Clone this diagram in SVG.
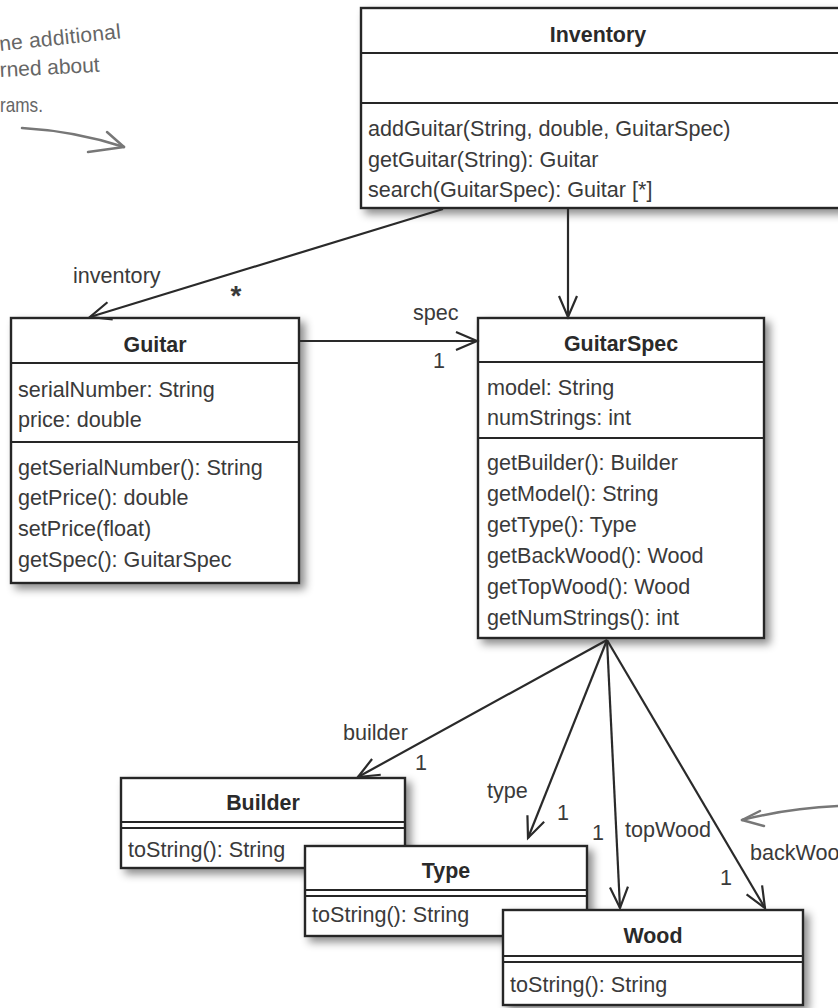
<svg xmlns="http://www.w3.org/2000/svg" width="838" height="1008" viewBox="0 0 838 1008">
<defs>
<style>
.box{fill:#fff;stroke:#262626;stroke-width:2.4}
.dv{stroke:#262626;stroke-width:2.2;fill:none}
.t{font-family:"Liberation Sans",Arial,sans-serif;font-size:21.6px;fill:#3a3a3a}
.ttl{font-family:"Liberation Sans",Arial,sans-serif;font-size:21.4px;font-weight:bold;fill:#2a2a2a;text-anchor:middle}
.c{stroke:#2a2a2a;stroke-width:2.2;fill:none;marker-end:url(#arr)}
.hw{font-family:"Liberation Sans",Arial,sans-serif;font-size:21px;fill:#666}
.hwl{stroke:#777;stroke-width:2.5;fill:none;stroke-linecap:round;stroke-linejoin:round}
</style>
<marker id="arr" markerUnits="userSpaceOnUse" markerWidth="26" markerHeight="22" refX="23" refY="11" orient="auto">
<path d="M2,2 L23,11 L2,20" fill="none" stroke="#2a2a2a" stroke-width="2.2"/>
</marker>
<filter id="sh" x="-10%" y="-10%" width="130%" height="130%">
<feDropShadow dx="5" dy="5" stdDeviation="4" flood-color="#000" flood-opacity="0.45"/>
</filter>
</defs>
<rect width="838" height="1008" fill="#fff"/>

<g id="annotation-top">
<text class="hw" x="0" y="51" transform="rotate(-6 0 51)" textLength="122" lengthAdjust="spacing">ne additional</text>
<text class="hw" x="0" y="77" transform="rotate(-3 0 77)" textLength="100" lengthAdjust="spacing">rned about</text>
<text class="hw" x="0" y="112" textLength="43" lengthAdjust="spacingAndGlyphs">rams.</text>
<path class="hwl" d="M22,128 Q75,131 124,147"/>
<path class="hwl" d="M107,132 L124,147 L88,152"/>
</g>

<g id="annotation-right">
<path class="hwl" d="M840,806 Q790,808 742,820"/>
<path class="hwl" d="M760,811 L742,820 L764,826"/>
</g>

<g id="Inventory">
<rect class="box" x="361" y="8" width="490" height="200" filter="url(#sh)"/>
<line class="dv" x1="361" y1="53" x2="851" y2="53"/>
<line class="dv" x1="361" y1="103" x2="851" y2="103"/>
<text class="ttl" x="598" y="42">Inventory</text>
<text class="t" x="368" y="136">addGuitar(String, double, GuitarSpec)</text>
<text class="t" x="368" y="167">getGuitar(String): Guitar</text>
<text class="t" x="368" y="197">search(GuitarSpec): Guitar [*]</text>
</g>

<g id="Guitar">
<rect class="box" x="11" y="318" width="288" height="265" filter="url(#sh)"/>
<line class="dv" x1="11" y1="363" x2="299" y2="363"/>
<line class="dv" x1="11" y1="442" x2="299" y2="442"/>
<text class="ttl" x="155" y="352">Guitar</text>
<text class="t" x="18" y="397">serialNumber: String</text>
<text class="t" x="18" y="427">price: double</text>
<text class="t" x="18" y="475">getSerialNumber(): String</text>
<text class="t" x="18" y="505">getPrice(): double</text>
<text class="t" x="18" y="536">setPrice(float)</text>
<text class="t" x="18" y="567">getSpec(): GuitarSpec</text>
</g>

<g id="GuitarSpec">
<rect class="box" x="478" y="318" width="286" height="320" filter="url(#sh)"/>
<line class="dv" x1="478" y1="362" x2="764" y2="362"/>
<line class="dv" x1="478" y1="438" x2="764" y2="438"/>
<text class="ttl" x="621" y="351">GuitarSpec</text>
<text class="t" x="487" y="395">model: String</text>
<text class="t" x="487" y="425">numStrings: int</text>
<text class="t" x="487" y="470">getBuilder(): Builder</text>
<text class="t" x="487" y="501">getModel(): String</text>
<text class="t" x="487" y="532">getType(): Type</text>
<text class="t" x="487" y="563">getBackWood(): Wood</text>
<text class="t" x="487" y="594">getTopWood(): Wood</text>
<text class="t" x="487" y="625">getNumStrings(): int</text>
</g>

<g id="Builder">
<rect class="box" x="121" y="778" width="284" height="90" filter="url(#sh)"/>
<line class="dv" x1="121" y1="822" x2="405" y2="822"/>
<line class="dv" x1="121" y1="828" x2="405" y2="828"/>
<text class="ttl" x="263" y="810">Builder</text>
<text class="t" x="128" y="857">toString(): String</text>
</g>

<g id="Type">
<rect class="box" x="305" y="846" width="282" height="90" filter="url(#sh)"/>
<line class="dv" x1="305" y1="890" x2="587" y2="890"/>
<line class="dv" x1="305" y1="896" x2="587" y2="896"/>
<text class="ttl" x="446" y="878">Type</text>
<text class="t" x="312" y="922">toString(): String</text>
</g>

<g id="Wood">
<rect class="box" x="503" y="910" width="300" height="95" filter="url(#sh)"/>
<line class="dv" x1="503" y1="956" x2="803" y2="956"/>
<line class="dv" x1="503" y1="962" x2="803" y2="962"/>
<text class="ttl" x="653" y="943">Wood</text>
<text class="t" x="510" y="992">toString(): String</text>
</g>

<g id="connectors">
<path class="c" d="M443,209 L90,317"/>
<path class="c" d="M568,209 L568,317"/>
<path class="c" d="M300,341 L477,341"/>
<path class="c" d="M607,640 L358,777"/>
<path class="c" d="M607,640 L528,838"/>
<path class="c" d="M607,640 L620,908"/>
<path class="c" d="M607,640 L765,908"/>
<text class="t" x="73" y="283">inventory</text>
<text class="t" x="236" y="305" text-anchor="middle" style="font-size:28px;font-weight:bold">*</text>
<text class="t" x="413" y="320">spec</text>
<text class="t" x="433" y="368">1</text>
<text class="t" x="343" y="740">builder</text>
<text class="t" x="415" y="770">1</text>
<text class="t" x="487" y="798">type</text>
<text class="t" x="557" y="820">1</text>
<text class="t" x="592" y="840">1</text>
<text class="t" x="625" y="837">topWood</text>
<text class="t" x="720" y="885">1</text>
<text class="t" x="750" y="860">backWoo</text>
</g>
</svg>
